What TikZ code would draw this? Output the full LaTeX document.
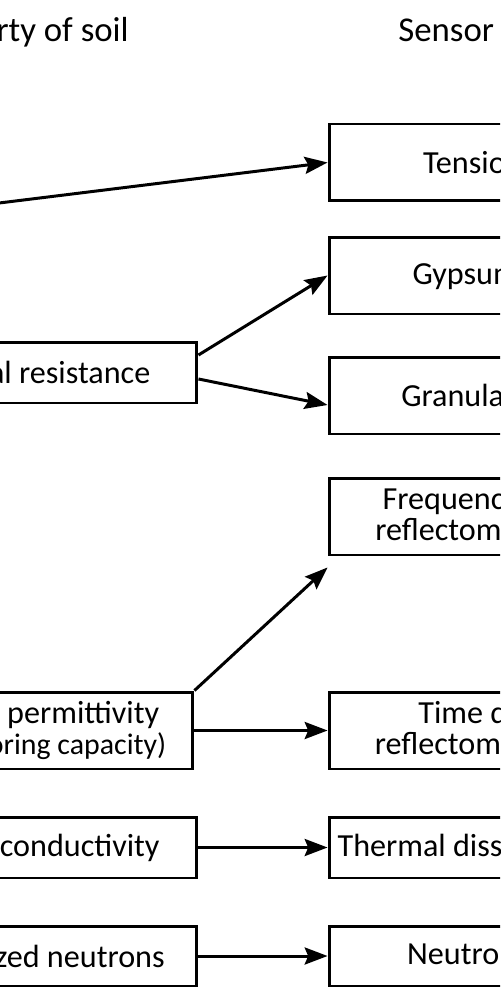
\documentclass[tikz,border=0pt]{standalone}
\usepackage{fontspec}
\setmainfont{Carlito}
\usetikzlibrary{arrows.meta}

\begin{document}
\begin{tikzpicture}[x=0.02cm,y=-0.02cm,
    txt/.style={font=\fontsize{18.3}{17.4}\selectfont},
    head/.style={font=\fontsize{19.8}{24}\selectfont,inner sep=0pt},
    soilbox/.style={txt,draw,line width=1.7pt,minimum width=7cm,
                    inner sep=0pt,align=center},
    tallbox/.style={soilbox,minimum height=1.54cm},
    flatbox/.style={soilbox,minimum height=1.22cm},
    flow/.style={-{Stealth[length=13pt,width=9.7pt,inset=2pt]},line width=1.7pt}]
  \useasboundingbox (0,0) rectangle (500,1000);
  \clip (0,0) rectangle (500,1000);

  %% Column titles
  \node[head,anchor=base east] (ttlsoil) at (129,42) {Property of soil};
  \node[head,anchor=base west] (ttlsens) at (398,42) {Sensor};

  %% Property of soil (left column)
  \coordinate (mpot) at (-60,210.3);
  \node[flatbox] (eres) at (22,372.5) {Electrical resistance};
  \node[tallbox] (perm) at (18,730.5)
       {Dielectric permittivity\\{\fontsize{17}{17.4}\selectfont(charge storing capacity)}};
  \node[flatbox] (tcon) at (22,847.5) {Thermal conductivity};
  \node[flatbox,minimum height=1.2cm] (tneu) at (22,956) {Thermalized neutrons};

  %% Sensors (right column)
  \node[tallbox] (tens) at (504,162.5) {Tensiometer};
  \node[tallbox] (gyps) at (504,275.5) {Gypsum block};
  \node[tallbox] (gran) at (504,395.5) {Granular matrix};
  \node[tallbox] (fdr) at (504,516.5) {Frequency domain\\reflectometry (FDR)};
  \node[tallbox] (tdr) at (504,730.5) {Time domain\\reflectometry (TDR)};
  \node[flatbox] (tdis) at (504,847.5) {Thermal dissipation block};
  \node[flatbox,minimum height=1.2cm] (nprb) at (504,956) {Neutron probe};

  %% Arrows
  \draw[flow] (mpot) -- (tens.west);
  \draw[flow] ([yshift=0.35cm]eres.east) -- (gyps.west);
  \draw[flow] ([yshift=-0.13cm]eres.east) -- ([yshift=-0.19cm]gran.west);
  \draw[flow] (perm.north east) -- ([yshift=-0.22cm]fdr.south west);
  \draw[flow] (perm.east) -- (tdr.west);
  \draw[flow] (tcon.east) -- (tdis.west);
  \draw[flow] (tneu.east) -- (nprb.west);
\end{tikzpicture}
\end{document}
